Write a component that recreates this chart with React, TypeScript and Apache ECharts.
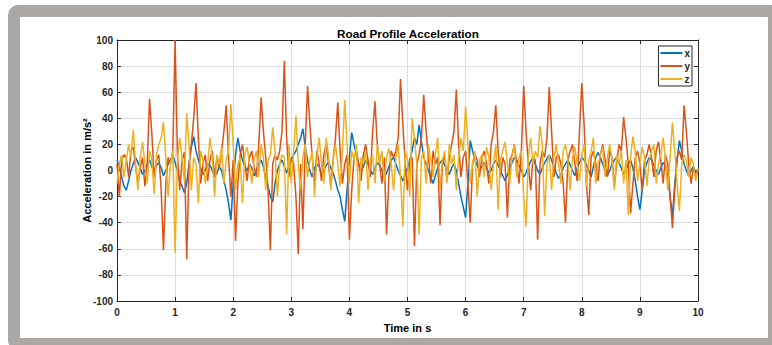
import React, { useEffect, useRef } from "react";
import * as echarts from "echarts";

// Sampling step of the recorded signals (seconds)
const SAMPLE_STEP_S = 0.04;

const legendNames = ["x", "y", "z"];
const xTicks = [0, 1, 2, 3, 4, 5, 6, 7, 8, 9, 10];
const yTicks = [-100, -80, -60, -40, -20, 0, 20, 40, 60, 80, 100];

// x acceleration (m/s²), one value every SAMPLE_STEP_S from 0 to 10 s
const accX = [
  8, 3, -5, -12, -15, -8, 0, 5, 10, 6,
  2, -3, 0, 5, 8, 3, -2, 4, 6, 2,
  -4, 0, 5, 8, 12, 6, 0, -8, -12, -17,
  -10, 5, 18, 26, 15, 8, 2, -3, 0, 5,
  4, 0, -5, -2, 3, 0, -8, -15, -25, -38,
  -10, 12, 25, 15, 8, 3, 0, 5, 2, -4,
  0, 5, 8, 3, -5, -12, -20, -24, -10, 0,
  5, 8, 3, -2, 4, 8, 12, 15, 20, 25,
  32, 18, 8, 0, -5, 2, 5, 3, -3, 0,
  4, 6, 2, -2, -8, -15, -20, -30, -39, -15,
  10, 29, 20, 12, 5, 0, 3, 8, 5, 0,
  -3, 2, 6, 4, 0, -5, -2, 3, 8, 10,
  5, 0, -4, -8, -3, 2, 8, 15, 25, 20,
  35, 22, 10, 5, 0, -5, -10, -4, 2, 6,
  8, 4, 0, -3, 2, 5, 0, -10, -20, -28,
  -36, -10, 23, 15, 8, 4, 0, 3, 6, 2,
  -2, 0, 5, 8, 4, 0, -4, -8, -3, 2,
  6, 10, 8, 4, 0, -5, -2, 3, 7, 10,
  5, 0, -3, 2, 6, 9, 12, 8, 3, -2,
  -6, -3, 2, 5, 8, 4, 0, -4, 2, 6,
  10, 8, 4, 0, -5, 3, 10, 14, 10, 5,
  0, -4, 0, 5, 8, 10, 6, 2, -3, 0,
  5, 8, 2, -8, -20, -30, -15, 0, 6, 10,
  8, 4, 0, -3, 2, 6, 4, -5, -20, -35,
  -10, 8, 23, 15, 5, 0, -4, 0, 3, -2,
  1,
];

// y acceleration (m/s²)
const accY = [
  5, -20, 8, 12, 10, -5, 15, 18, 3, -10,
  2, 10, -12, 5, 55, 28, -5, 8, 12, -15,
  -61, -10, 10, 5, 15, 100, 12, -15, 8, 14,
  -68, 5, 20, 40, 67, 25, -10, 5, 12, -8,
  8, 15, -5, 10, 2, 15, 30, 50, 10, -20,
  8, -54, -10, 12, 20, 5, -8, 10, 15, 2,
  -5, 20, 56, 30, 10, -15, -61, 5, 12, 8,
  15, 30, 84, 25, -5, 10, 5, -20, -64, 5,
  -45, 20, 65, 35, 10, -10, 15, 5, -8, 12,
  20, 5, -12, 8, 25, 52, 15, -10, 5, 12,
  -53, -15, 10, 15, 5, -8, 12, 20, 8, -5,
  30, 53, 20, 5, -10, 10, -49, -5, 15, 10,
  15, 25, 70, 35, 5, -15, 8, 10, -58, 5,
  12, 25, 58, 30, 10, -10, 15, 5, 10, -42,
  5, 12, -8, 10, 20, 30, 62, 20, -5, 10,
  15, -10, -40, 5, 12, 8, -5, 10, 15, 5,
  -10, 20, 30, 50, 15, -5, 10, 5, -36, 8,
  12, 20, 5, -10, 15, 65, 30, 5, -15, 10,
  8, -53, 5, 15, 10, 25, 64, 30, -5, 10,
  12, 5, -10, -40, 8, 15, 20, 5, -8, 30,
  67, 35, -10, -34, 10, 15, 5, -8, 12, 20,
  8, -5, 15, 10, -12, 5, 20, 15, 41, 25,
  5, -33, -10, 10, 15, 5, -15, 8, 12, 20,
  10, -5, 15, 22, 8, -10, 12, 5, -20, -44,
  -15, 10, 15, 8, 50, 30, 5, -10, 2, -5,
  0,
];

// z acceleration (m/s²)
const accZ = [
  -10, 5, 12, -5, 8, 20, 10, 31, 5, -15,
  10, 22, 5, -10, 15, 8, -18, 12, 20, 25,
  37, 10, -20, 5, 15, -63, 8, 25, 10, -8,
  44, 20, -15, 10, 5, -25, 15, 8, -10, 5,
  25, 10, -20, 12, 5, 18, -10, 8, 15, 51,
  20, -15, 5, 10, -25, 12, 18, 5, -10, 8,
  15, -5, 20, 10, -15, 8, 12, 33, 15, -20,
  5, 12, 10, -49, 20, -10, 15, 42, 5, -15,
  10, 20, -5, 8, 15, -20, 10, 25, 5, -10,
  25, 12, -15, 8, 20, 5, -12, 15, 54, 20,
  -10, 15, 8, 20, -25, 10, 5, 15, -15, 8,
  12, -10, 20, 5, 15, -8, 10, 17, 5, -15,
  10, 20, -5, -43, 15, 8, -20, 40, 25, 5,
  -49, 10, 15, -10, 20, 8, -5, 12, 25, -15,
  8, 15, -10, 20, 5, 12, -15, 10, 25, 15,
  49, 20, -10, 5, 15, -20, 8, 12, -5, 18,
  10, -15, 5, 20, -30, 8, 15, 22, 5, -10,
  12, 20, -5, 10, 15, -20, -43, 10, 25, 5,
  15, 10, 34, 20, -35, 5, 12, -15, 10, 20,
  5, -10, 15, 20, 8, -15, 10, 18, 5, -8,
  12, 20, -12, 8, 15, 25, -10, 5, 12, 18,
  -5, 10, 20, 8, -15, 12, 5, 15, -10, 8,
  -34, 10, 26, 15, -8, 5, 18, 10, -12, 8,
  15, 20, -10, 5, 12, 25, 8, -15, 10, 37,
  15, -10, -31, 5, 12, 8, -5, 10, 5, -8,
  2,
];

const seriesColors = ["#0072BD", "#D95319", "#EDB120"];
const FONT = "'Liberation Sans', Arial, Helvetica, sans-serif";
const INK = "#262626";

function toPairs(values: number[]) {
  return values.map((v, i) => [Number((i * SAMPLE_STEP_S).toFixed(2)), v]);
}

export default function App() {
  const ref = useRef<HTMLDivElement>(null);

  useEffect(() => {
    document.body.style.margin = "0";
    if (!ref.current) return;
    const chart = echarts.init(ref.current, null, { renderer: "svg" });

    const axisCommon = {
      axisLine: { show: true, onZero: false, lineStyle: { color: INK, width: 1 } },
      axisTick: { show: true, inside: true, length: 4, lineStyle: { color: INK, width: 1 } },
    };

    const allSeries = [accX, accY, accZ];

    chart.setOption({
      animation: false,
      backgroundColor: "transparent",
      graphic: [
        {
          type: "text",
          x: 408,
          y: 33,
          style: {
            text: "Road Profile Acceleration",
            textAlign: "center",
            textVerticalAlign: "middle",
            font: `bold 11.7px ${FONT}`,
            fill: "#000",
          },
        },
      ],
      legend: {
        data: legendNames.map((n) => ({ name: n, icon: "rect" })),
        orient: "vertical",
        right: 80,
        top: 46,
        itemWidth: 22,
        itemHeight: 2,
        itemGap: 1,
        padding: [1, 2, 1, 2],
        borderColor: INK,
        borderWidth: 1,
        backgroundColor: "#fff",
        textStyle: {
          fontFamily: FONT,
          fontWeight: "bold",
          fontSize: 10,
          color: INK,
          lineHeight: 12,
          padding: [0, 0, 0, -3],
        },
      },
      grid: { left: 117, top: 40, right: 74, bottom: 44, containLabel: false },
      xAxis: [
        {
          type: "value",
          min: xTicks[0],
          max: xTicks[xTicks.length - 1],
          interval: 1,
          position: "bottom",
          ...axisCommon,
          axisLabel: { color: INK, fontFamily: FONT, fontWeight: "bold", fontSize: 10, margin: 6 },
          splitLine: { show: true, lineStyle: { color: "#dedede", width: 1 } },
          name: "Time in s",
          nameLocation: "middle",
          nameGap: 21,
          nameMoveOverlap: false,
          nameTextStyle: { color: "#000", fontFamily: FONT, fontWeight: "bold", fontSize: 11 },
        },
        {
          type: "value",
          min: xTicks[0],
          max: xTicks[xTicks.length - 1],
          interval: 1,
          position: "top",
          ...axisCommon,
          axisLabel: { show: false },
          splitLine: { show: false },
        },
      ],
      yAxis: [
        {
          type: "value",
          min: yTicks[0],
          max: yTicks[yTicks.length - 1],
          interval: 20,
          position: "left",
          ...axisCommon,
          axisLabel: { color: INK, fontFamily: FONT, fontWeight: "bold", fontSize: 10, margin: 4 },
          splitLine: { show: true, lineStyle: { color: "#dedede", width: 1 } },
          name: "Acceleration in m/s²",
          nameLocation: "middle",
          nameGap: 25,
          nameMoveOverlap: false,
          nameTextStyle: { color: "#000", fontFamily: FONT, fontWeight: "bold", fontSize: 11 },
        },
        {
          type: "value",
          min: yTicks[0],
          max: yTicks[yTicks.length - 1],
          interval: 20,
          position: "right",
          ...axisCommon,
          axisLabel: { show: false },
          splitLine: { show: false },
        },
      ],
      series: allSeries.map((vals, k) => ({
        name: legendNames[k],
        type: "line",
        xAxisIndex: 0,
        yAxisIndex: 0,
        data: toPairs(vals),
        symbol: "none",
        showSymbol: false,
        lineStyle: { color: seriesColors[k], width: 1.5 },
        itemStyle: { color: seriesColors[k] },
        clip: true,
      })),
    });

    return () => chart.dispose();
  }, []);

  return (
    <div style={{ position: "relative", width: 772, height: 345, overflow: "hidden", background: "#fff" }}>
      <div
        style={{
          position: "absolute",
          left: 8,
          top: 5,
          width: 748,
          height: 321,
          border: "12px solid #aca8a6",
          borderRadius: 10,
          background: "#fff",
          boxSizing: "content-box",
        }}
      />
      <div ref={ref} style={{ position: "absolute", left: 0, top: 0, width: 772, height: 345 }} />
    </div>
  );
}
